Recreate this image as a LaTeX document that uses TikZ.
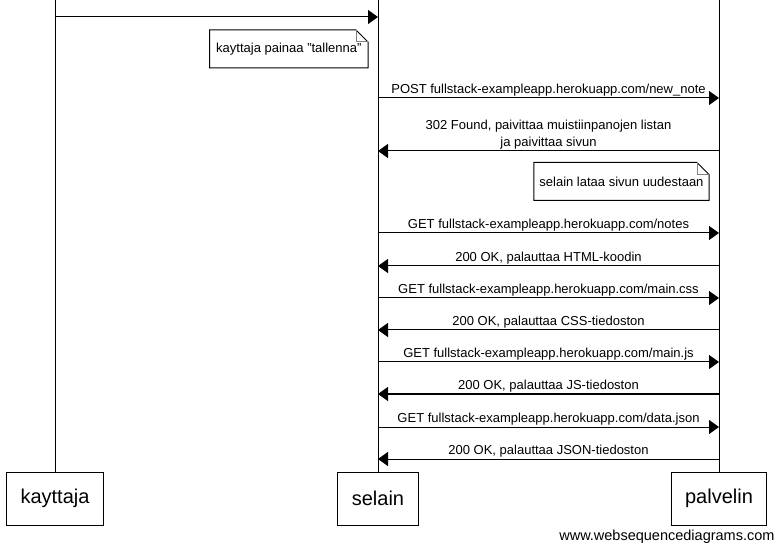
\documentclass[tikz,border=0pt]{standalone}
\usepackage{fontspec}
\setmainfont{Liberation Sans}
\usetikzlibrary{arrows.meta}

\newcommand\lblfont{\fontsize{13}{17}\selectfont}
% note box with folded corner
\newcommand\drawnote[1]{%
  \draw (#1.north west) -- ([xshift=-12pt]#1.north east) -- ([yshift=-12pt]#1.north east)
    -- (#1.south east) -- (#1.south west) -- cycle;
  \draw[gray] ([xshift=-12pt]#1.north east) -- ([xshift=-12pt,yshift=-12pt]#1.north east)
    -- ([yshift=-12pt]#1.north east);}

\begin{document}
\begin{tikzpicture}[x=1pt,y=-1pt,line width=1pt,
  actor/.style={draw, font=\fontsize{20}{24}\selectfont, minimum height=53pt, inner xsep=14pt},
  msg/.style={-{Triangle[length=10pt,width=14pt]}},
  lbl/.style={font=\lblfont, anchor=south, inner sep=0pt, yshift=1.5pt, align=center},
  note/.style={font=\lblfont, minimum height=37pt, inner xsep=6pt, inner ysep=0pt}]

  \useasboundingbox (0,0) rectangle (780,548);

  % actors
  \node[actor] (kayttaja) at (55,498.5) {kayttaja};
  \node[actor] (selain) at (378,498.5) {selain};
  \node[actor] (palvelin) at (719,498.5) {palvelin};

  % lifelines
  \draw (kayttaja.north) -- (kayttaja |- 0,0);
  \draw (selain.north) -- (selain |- 0,0);
  \draw (palvelin.north) -- (palvelin |- 0,0);

  % messages
  \draw[msg] (kayttaja |- 0,17) -- (selain |- 0,17);
  \foreach \y/\a/\b/\t in {
      98/selain/palvelin/{POST fullstack-exampleapp.herokuapp.com/new\_note},
      151/palvelin/selain/{302 Found, paivittaa muistiinpanojen listan\\ja paivittaa sivun},
      233/selain/palvelin/{GET fullstack-exampleapp.herokuapp.com/notes},
      266/palvelin/selain/{200 OK, palauttaa HTML-koodin},
      298/selain/palvelin/{GET fullstack-exampleapp.herokuapp.com/main.css},
      330/palvelin/selain/{200 OK, palauttaa CSS-tiedoston},
      362/selain/palvelin/{GET fullstack-exampleapp.herokuapp.com/main.js},
      394/palvelin/selain/{200 OK, palauttaa JS-tiedoston},
      427/selain/palvelin/{GET fullstack-exampleapp.herokuapp.com/data.json},
      459/palvelin/selain/{200 OK, palauttaa JSON-tiedoston}}
    \draw[msg] (\a |- 0,\y) -- node[lbl] {\t} (\b |- 0,\y);

  % notes
  \node[note, anchor=east] (tallenna) at (368,49) {kayttaja painaa {\char34}tallenna{\char34}};
  \drawnote{tallenna}
  \node[note, anchor=east, inner xsep=5pt] (lataa) at (709,181.5) {selain lataa sivun uudestaan};
  \drawnote{lataa}

  \node[anchor=base east, inner sep=0pt, font=\fontsize{14.5}{16}\selectfont] (wsd) at (775,540)
    {www.websequencediagrams.com};
\end{tikzpicture}
\end{document}
